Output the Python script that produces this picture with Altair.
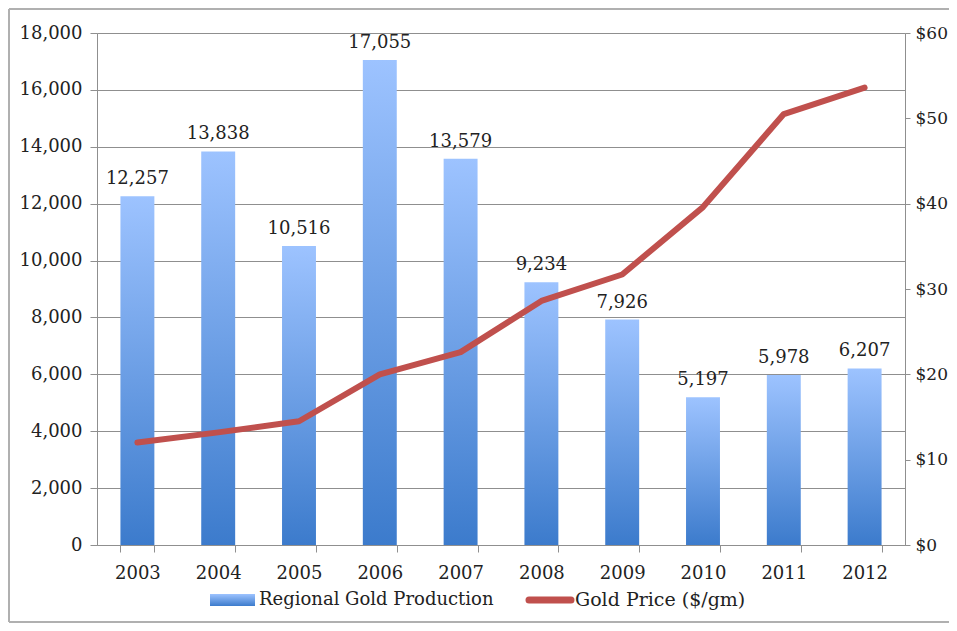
import altair as alt
import pandas as pd

years = ["2003", "2004", "2005", "2006", "2007", "2008", "2009", "2010", "2011", "2012"]
production = [12257, 13838, 10516, 17055, 13579, 9234, 7926, 5197, 5978, 6207]
gold_price = [12.0, 13.2, 14.5, 20.0, 22.6, 28.6, 31.7, 39.6, 50.5, 53.6]
left_ticks = list(range(0, 18001, 2000))
right_ticks = list(range(0, 61, 10))

df = pd.DataFrame({"year": years, "production": production, "price": gold_price})
one = pd.DataFrame({"k": [0]})

FONT = "DejaVu Serif"
FS = 18
TXT = "#222222"
GRID = "#8f8f8f"
FRAME = "#b0b0b0"

grad = alt.Gradient(
    gradient="linear", x1=0, y1=0, x2=0, y2=1,
    stops=[alt.GradientStop(offset=0, color="#9DC3FF"),
           alt.GradientStop(offset=1, color="#3C7BCC")],
)

xenc = alt.X("year:N", sort=years, title=None,
             scale=alt.Scale(paddingInner=0.58, paddingOuter=0.29),
             axis=alt.Axis(labelAngle=0, tickBand="extent", tickSize=7, labelPadding=12,
                           domainColor=GRID, tickColor=GRID, labelFont=FONT,
                           labelFontSize=FS, labelColor=TXT, grid=False))

bars = alt.Chart(df).mark_bar(color=grad).encode(
    x=xenc,
    y=alt.Y("production:Q", title=None,
            scale=alt.Scale(domain=[0, 18000], nice=False),
            axis=alt.Axis(values=left_ticks, format=",d", grid=True, gridColor=GRID,
                          gridWidth=1.2, domainColor=GRID, tickColor=GRID, tickSize=7,
                          labelPadding=8, labelFont=FONT, labelFontSize=FS,
                          labelColor=TXT, orient="left")),
)
labels = alt.Chart(df).mark_text(font=FONT, fontSize=FS, color=TXT, baseline="alphabetic",
                                 dy=-12).encode(
    x=alt.X("year:N", sort=years),
    y=alt.Y("production:Q"),
    text=alt.Text("production:Q", format=",d"),
)
left = alt.layer(bars, labels)

line = alt.Chart(df).mark_line(color="#C0504D", strokeWidth=6, strokeCap="round",
                               strokeJoin="round").encode(
    x=alt.X("year:N", sort=years),
    y=alt.Y("price:Q", title=None,
            scale=alt.Scale(domain=[0, 60], nice=False),
            axis=alt.Axis(values=right_ticks, format="$.0f", grid=False, orient="right",
                          domainColor=GRID, tickColor=GRID, tickSize=5, labelPadding=5,
                          labelFont=FONT, labelFontSize=17, labelColor=TXT)),
)

# legend (decorative)
leg_rect = alt.Chart(one).mark_rect(color=grad).encode(
    x=alt.value(113), x2=alt.value(158), y=alt.value(561), y2=alt.value(573))
leg_t1 = alt.Chart(one).mark_text(text="Regional Gold Production", font=FONT, fontSize=FS,
                                  color=TXT, align="left", baseline="middle").encode(
    x=alt.value(162), y=alt.value(567))
leg_line = alt.Chart(one).mark_rule(color="#C0504D", strokeWidth=7, strokeCap="round").encode(
    x=alt.value(432), x2=alt.value(474), y=alt.value(567))
leg_t2 = alt.Chart(one).mark_text(text="Gold Price ($/gm)", font=FONT, fontSize=FS + 1,
                                  color=TXT, align="left", baseline="middle").encode(
    x=alt.value(478), y=alt.value(567))

# outer frame (open on the right, like the reference)
frame_top = alt.Chart(one).mark_rule(color=FRAME, strokeWidth=2).encode(
    x=alt.value(-88), x2=alt.value(852), y=alt.value(-24))
frame_bottom = alt.Chart(one).mark_rule(color=FRAME, strokeWidth=2).encode(
    x=alt.value(-88), x2=alt.value(852), y=alt.value(589))
frame_left = alt.Chart(one).mark_rule(color=FRAME, strokeWidth=2).encode(
    x=alt.value(-88), y=alt.value(-24), y2=alt.value(589))

chart = alt.layer(left, line, leg_rect, leg_t1, leg_line, leg_t2,
                  frame_top, frame_bottom, frame_left).resolve_scale(
    y="independent"
).properties(
    width=808, height=512, autosize="none",
    padding={"left": 89, "top": 25, "right": 44, "bottom": 78},
).configure_view(strokeWidth=0).configure(background="white")

chart.save("out.html", embed_options={"renderer": "svg", "actions": False})
